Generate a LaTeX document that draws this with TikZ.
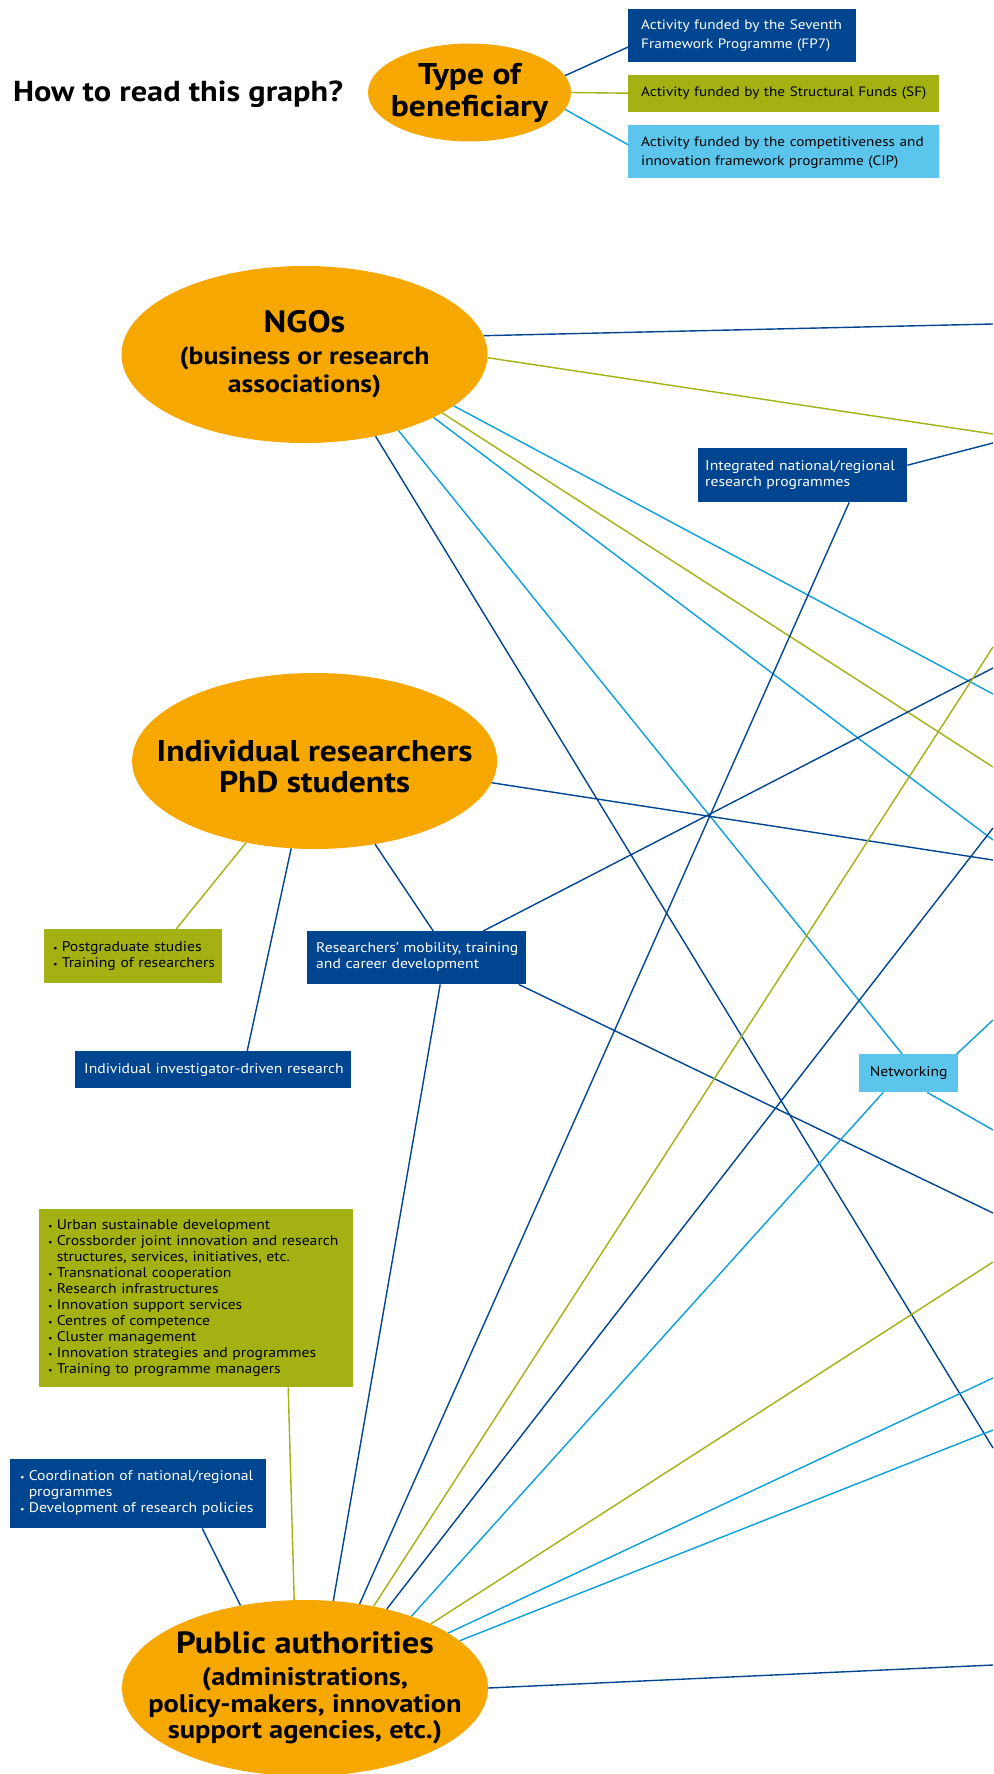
\documentclass[tikz,border=0pt]{standalone}
\usepackage{fontspec}
\setmainfont{PT Sans}[FakeStretch=1.12]
\usetikzlibrary{shapes.geometric}
\definecolor{benorange}{HTML}{F6A800}
\definecolor{fpblue}{HTML}{00458F}
\definecolor{sfgreen}{HTML}{A3B112}
\definecolor{cipline}{HTML}{0AA0DC}
\definecolor{cipfill}{HTML}{5CC5EC}
\newcommand\bul{{\small\textbullet}}
\begin{document}
\begin{tikzpicture}[x=1pt, y=-1pt,
  benef/.style={ellipse, fill=benorange, inner sep=-40pt, align=center},
  act/.style={rectangle, anchor=north west, inner ysep=0pt, align=left,
    font=\fontsize{14}{16}\selectfont},
  fpbox/.style={act, fill=fpblue, text=white},
  sfbox/.style={act, fill=sfgreen, text=black},
  cipbox/.style={act, fill=cipfill, text=black},
  fp/.style={draw=fpblue, line width=1.4pt},
  sf/.style={draw=sfgreen, line width=1.4pt},
  cip/.style={draw=cipline, line width=1.4pt}]
  \path[use as bounding box, fill=white] (0,0) rectangle (993,1774);

  % legend
  \node[anchor=base west, font=\fontsize{28.9}{32}\selectfont\bfseries] (howto) at (9.5,101.5) {How to read this graph?};
  \node[benef, minimum width=203pt, minimum height=98pt,
    font=\bfseries\fontsize{30}{32}\selectfont] (type) at (469.5,92.5) {Type of\\beneficiary};
  \node[fpbox, inner xsep=13pt, text width=202pt, minimum height=53pt,
    font=\fontsize{13.6}{19}\selectfont] (fp7) at (628,9)
    {\begin{tabular}{@{}l@{}}Activity funded by the Seventh\\Framework Programme (FP7)\end{tabular}};
  \node[sfbox, inner xsep=13pt, text width=285pt, minimum height=37pt,
    font=\fontsize{13.6}{19}\selectfont] (sfund) at (628,74.5)
    {\mbox{Activity funded by the Structural Funds (SF)}};
  \node[cipbox, inner xsep=13pt, text width=285pt, minimum height=53pt,
    font=\fontsize{13.6}{19}\selectfont] (cipp) at (628,125)
    {\begin{tabular}{@{}l@{}}Activity funded by the competitiveness and\\innovation framework programme (CIP)\end{tabular}};
  \draw[fp] (type.10.3) -- ([yshift=-11.4pt]fp7.west);
  \draw[sf] (type.0) -- (sfund.west);
  \draw[cip] (type.-10.3) -- ([yshift=7pt]cipp.west);

  % beneficiaries
  \node[benef, minimum width=366pt, minimum height=177pt,
    font=\bfseries\fontsize{24.8}{28}\selectfont] (ngo) at (304.5,354.5)
    {{\fontsize{30.9}{32}\selectfont NGOs}\\[4pt](business or research\\associations)};
  \node[benef, minimum width=365pt, minimum height=176pt] (indiv) at (314.6,761) {};
  \node[align=center, font=\bfseries\fontsize{30}{31}\selectfont] (indiv-t) at (314.6,766.6)
    {Individual researchers\\PhD students};
  \node[benef, minimum width=366pt, minimum height=176pt,
    font=\bfseries\fontsize{25.4}{26.5}\selectfont] (pub) at (305,1688)
    {{\fontsize{30.7}{32}\selectfont Public authorities}\\[5.5pt](administrations,\\policy-makers, innovation\\support agencies, etc.)};

  % activities
  \node[fpbox, inner xsep=7pt, text width=195pt, minimum height=54pt] (integ) at (698,448)
    {\begin{tabular}{@{}l@{}}Integrated national/regional\\research programmes\end{tabular}};
  \node[sfbox, inner xsep=9pt, text width=160pt, minimum height=54pt] (postgr) at (44,929)
    {\begin{tabular}{@{}l@{\hspace{4pt}}l@{}}\bul & Postgraduate studies\\\bul & Training of researchers\end{tabular}};
  \node[fpbox, inner xsep=9pt, text width=201pt, minimum height=53pt] (mobil) at (307,931)
    {\begin{tabular}{@{}l@{}}Researchers' mobility, training\\and career development\end{tabular}};
  \node[fpbox, inner xsep=9pt, text width=258pt, minimum height=37pt] (invest) at (75,1051)
    {\mbox{Individual investigator-driven research}};
  \node[cipbox, inner xsep=10pt, text width=79pt, minimum height=38pt, align=center] (netw) at (859,1054)
    {Networking};
  \node[sfbox, inner xsep=9pt, text width=296pt, minimum height=178pt] (list) at (39,1209)
    {\begin{tabular}{@{}l@{\hspace{4pt}}l@{}}
      \bul & Urban sustainable development\\
      \bul & Crossborder joint innovation and research\\
           & structures, services, initiatives, etc.\\
      \bul & Transnational cooperation\\
      \bul & Research infrastructures\\
      \bul & Innovation support services\\
      \bul & Centres of competence\\
      \bul & Cluster management\\
      \bul & Innovation strategies and programmes\\
      \bul & Training to programme managers
    \end{tabular}};
  \node[fpbox, inner xsep=10pt, text width=236pt, minimum height=69pt] (coord) at (10,1459)
    {\begin{tabular}{@{}l@{\hspace{4pt}}l@{}}
      \bul & Coordination of national/regional\\
           & programmes\\
      \bul & Development of research policies
    \end{tabular}};

  % free ends at the right edge
  \coordinate (e1) at (993,324);
  \coordinate (e2) at (993,434);
  \coordinate (e3) at (993,443);
  \coordinate (e4) at (993,647);
  \coordinate (e5) at (993,668);
  \coordinate (e6) at (993,694);
  \coordinate (e7) at (993,767);
  \coordinate (e8) at (993,828);
  \coordinate (e9) at (993,840);
  \coordinate (e10) at (993,860);
  \coordinate (e11) at (993,1020);
  \coordinate (e12) at (993,1130);
  \coordinate (e13) at (993,1213);
  \coordinate (e14) at (993,1262);
  \coordinate (e15) at (993,1378);
  \coordinate (e16) at (993,1430);
  \coordinate (e17) at (993,1448);
  \coordinate (e18) at (993,1665);

  % NGOs
  \draw[fp] (ngo.6.6) -- (e1);
  \draw[sf] (ngo.-1.1) -- (e2);
  \draw[cip] (ngo.-19.1) -- (e6);
  \draw[sf] (ngo.-23.4) -- (e7);
  \draw[cip] (ngo.-26.8) -- (e9);
  \draw[cip] (ngo.-39.9) -- ([xshift=-6.5pt]netw.north);
  \draw[fp] (ngo.-49) -- (e17);

  % individual researchers
  \draw[sf] (indiv.-130.8) -- ([xshift=43pt]postgr.north);
  \draw[fp] (indiv.-105) -- ([xshift=34pt]invest.north);
  \draw[fp] (indiv.-54.7) -- ([xshift=16.5pt]mobil.north);
  \draw[fp] (indiv.-7.1) -- (e10);

  % activities
  \draw[fp] ([xshift=66.5pt]mobil.north) -- (e5);
  \draw[fp] ([xshift=102pt]mobil.south) -- (e13);
  \draw[fp] ([xshift=23.5pt]mobil.south) -- (pub.72.6);
  \draw[fp] ([yshift=10pt]integ.east) -- (e3);
  \draw[fp] ([xshift=46.5pt]integ.south) -- (pub.57.6);
  \draw[cip] ([xshift=48pt]netw.north) -- (e11);
  \draw[cip] ([xshift=18.5pt]netw.south) -- (e12);
  \draw[cip] ([xshift=-25.5pt]netw.south) -- (pub.34.8);
  \draw[sf] ([xshift=92pt]list.south) -- (pub.97.4);
  \draw[fp] ([xshift=64pt]coord.south) -- (pub.128.3);

  % public authorities
  \draw[sf] (e4) -- (pub.50);
  \draw[fp] (e8) -- (pub.44.6);
  \draw[sf] (e14) -- (pub.27.5);
  \draw[cip] (e15) -- (pub.21);
  \draw[cip] (e16) -- (pub.17.3);
  \draw[fp] (e18) -- (pub.0.3);
\end{tikzpicture}
\end{document}
